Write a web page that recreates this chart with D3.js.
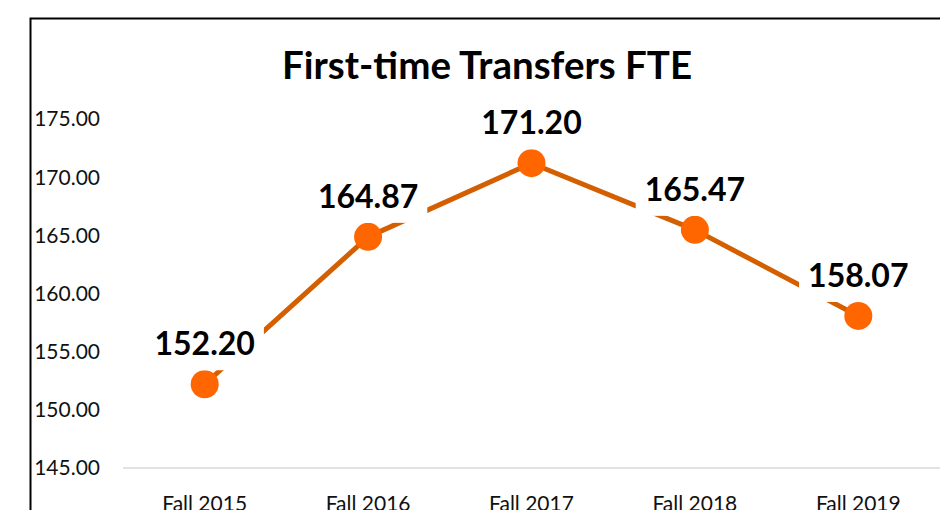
<!DOCTYPE html>
<html lang="en">
	<head>
		<meta charset="utf-8">
		<title>First-time Transfers FTE</title>
		<script type="text/javascript" src="https://d3js.org/d3.v7.min.js"></script>
		<style type="text/css">
            body{margin:0;background:#fff;font-family:Lato, "Open Sans", sans-serif;}
            #chart1{width:940px;height:510px;overflow:hidden;}
		</style>
	</head>
	<body>
    <div id="chart1"></div>
		<script type="text/javascript">
            // chart data
            var terms = ["Fall 2015","Fall 2016","Fall 2017","Fall 2018","Fall 2019"]
            var fte = [152.20,164.87,171.20,165.47,158.07]
            var yTicks = [145,150,155,160,165,170,175]

            var w = 940
            var h = 510
            var plotLeft = 123, plotRight = 940, plotTop = 119, plotBottom = 468

            var svg = d3.select("#chart1")
                        .append("svg")
                        .attr("width",w)
                        .attr("height",h)

            // outer chart frame (runs past the right and bottom edge)
            svg.append("rect")
                .attr("x",30.5)
                .attr("y",18.5)
                .attr("width",1000)
                .attr("height",600)
                .attr("fill","#fff")
                .attr("stroke","#000")
                .attr("stroke-width",2)

            svg.append("text")
                .attr("x",487)
                .attr("y",79)
                .attr("text-anchor","middle")
                .attr("font-size",38.5)
                .attr("font-weight","bold")
                .attr("fill","#000")
                .text("First-time Transfers FTE")

            var xScale = d3.scaleBand()
                .domain(terms)
                .range([plotLeft,plotRight])

            var yScale = d3.scaleLinear()
                .domain([145,175])
                .range([plotBottom,plotTop])

            // y labels
            svg.selectAll(".ylab")
                .data(yTicks)
                .enter()
                .append("text")
                .attr("class","ylab")
                .attr("x",100)
                .attr("y",function(d){ return yScale(d) })
                .attr("dy","0.35em")
                .attr("text-anchor","end")
                .attr("font-size",21)
                .attr("fill","#111")
                .text(function(d){ return d3.format(".2f")(d) })

            // baseline
            svg.append("line")
                .attr("x1",plotLeft)
                .attr("x2",plotRight)
                .attr("y1",yScale(145))
                .attr("y2",yScale(145))
                .attr("stroke","#d9d9d9")
                .attr("stroke-width",1.5)

            // x labels
            svg.selectAll(".xlab")
                .data(terms)
                .enter()
                .append("text")
                .attr("class","xlab")
                .attr("x",function(d){ return xScale(d)+xScale.bandwidth()/2 })
                .attr("y",511)
                .attr("text-anchor","middle")
                .attr("font-size",21)
                .attr("fill","#111")
                .text(function(d){ return d })

            var pts = terms.map(function(t,i){ return {term:t, v:fte[i]} })

            var line = d3.line()
                .x(function(d){ return xScale(d.term)+xScale.bandwidth()/2 })
                .y(function(d){ return yScale(d.v) })

            svg.append("path")
                .datum(pts)
                .attr("d",line)
                .attr("fill","none")
                .attr("stroke","#D35F00")
                .attr("stroke-width",5)
                .attr("stroke-linejoin","round")

            svg.selectAll("circle")
                .data(pts)
                .enter()
                .append("circle")
                .attr("cx",function(d){ return xScale(d.term)+xScale.bandwidth()/2 })
                .attr("cy",function(d){ return yScale(d.v) })
                .attr("r",14)
                .attr("fill","#FF6600")

            // value labels with white boxes that hide the line behind them
            var labels = svg.selectAll(".vlab")
                .data(pts)
                .enter()
                .append("g")
                .attr("class","vlab")

            labels.append("rect")
                .attr("fill","#fff")

            labels.append("text")
                .attr("x",function(d){ return xScale(d.term)+xScale.bandwidth()/2 })
                .attr("y",function(d){ return yScale(d.v)-29 })
                .attr("text-anchor","middle")
                .attr("font-size",32)
                .attr("font-weight","bold")
                .attr("fill","#000")
                .text(function(d){ return d3.format(".2f")(d.v) })

            labels.each(function(d){
                var g = d3.select(this)
                var bb = g.select("text").node().getBBox()
                g.select("rect")
                    .attr("x",bb.x-9)
                    .attr("y",yScale(d.v)-62)
                    .attr("width",bb.width+18)
                    .attr("height",48)
            })
        </script>
	</body>
</html>
